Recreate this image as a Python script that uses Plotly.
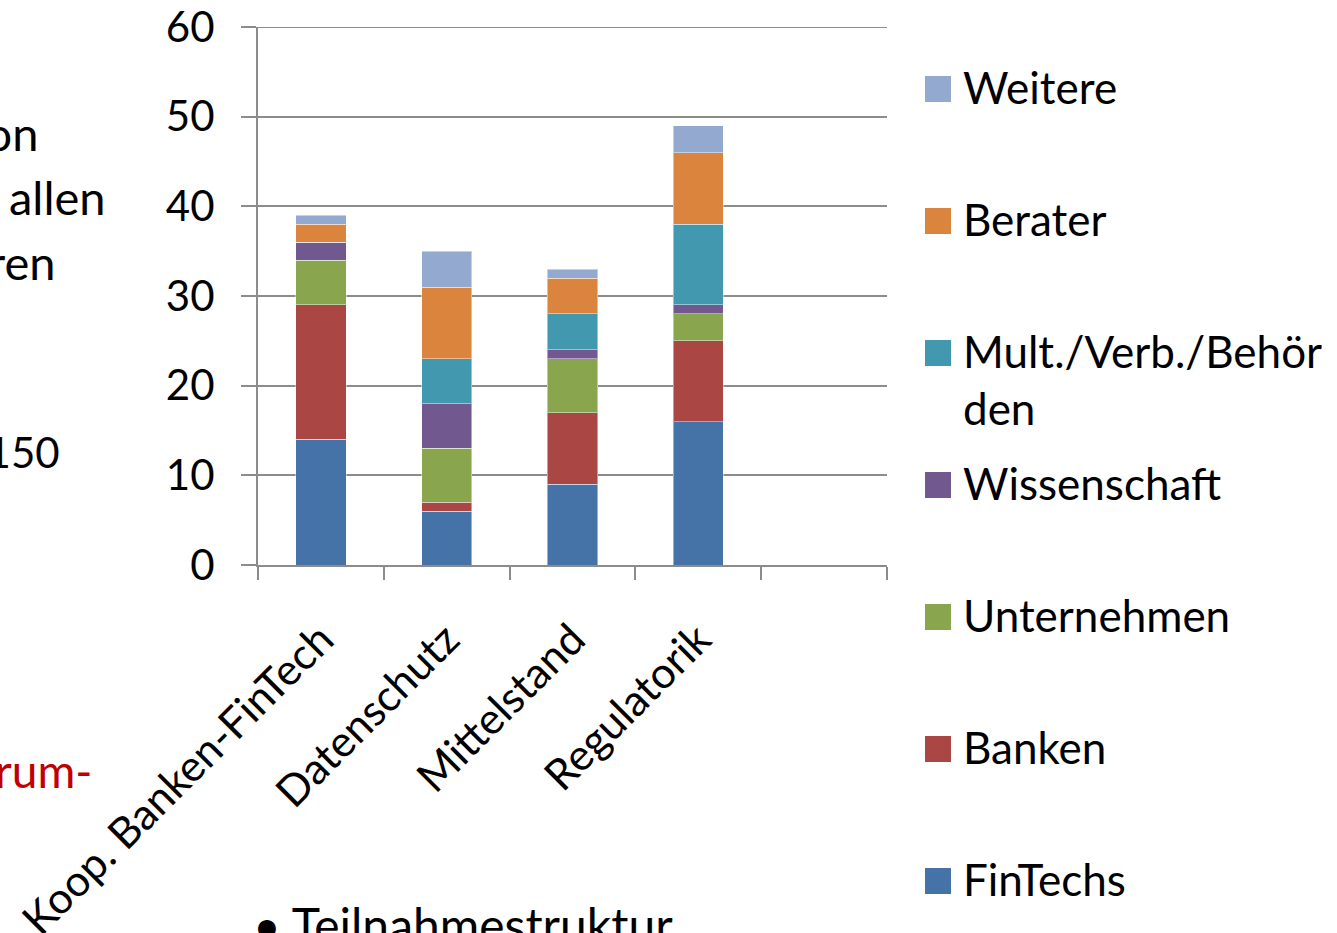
import plotly.graph_objects as go

categories = ["Koop. Banken-FinTech", "Datenschutz", "Mittelstand", "Regulatorik", " "]
series_names = ["FinTechs", "Banken", "Unternehmen", "Wissenschaft",
                "Mult./Verb./Behörden", "Berater", "Weitere"]
legend_labels = ["FinTechs", "Banken", "Unternehmen", "Wissenschaft",
                 "Mult./Verb./Behör<br>den", "Berater", "Weitere"]
fintechs = [14, 6, 9, 16]
banken = [15, 1, 8, 9]
unternehmen = [5, 6, 6, 3]
wissenschaft = [2, 5, 1, 1]
mult_verb = [0, 5, 4, 9]
berater = [2, 8, 4, 8]
weitere = [1, 4, 1, 3]
series_values = [fintechs, banken, unternehmen, wissenschaft, mult_verb, berater, weitere]
colors = ["#4572A7", "#AA4643", "#89A54E", "#71588F", "#4198AF", "#DB843D", "#93A9CF"]
y_ticks = [0, 10, 20, 30, 40, 50, 60]

FONT = "Lato"
W, H = 1337, 933
ML, MR, MT, MB = 258, 450, 27, 368
PW, PH = W - ML - MR, H - MT - MB


def px_x(x):
    return (x - ML) / PW


def px_y(y):
    return (H - MB - y) / PH


fig = go.Figure()
for name, vals, col in zip(series_names, series_values, colors):
    fig.add_trace(go.Bar(
        x=categories[:4], y=vals, name=name, width=0.4,
        marker=dict(color=col, line=dict(color="rgba(255,255,255,0.45)", width=1)),
        showlegend=False,
    ))

annotations = []
shapes = []
# top gridline at the axis maximum
shapes.append(dict(type="line", xref="paper", yref="y", x0=0, x1=1,
                   y0=y_ticks[-1], y1=y_ticks[-1], line=dict(color="#8c8c8c", width=2)))
# manual legend (top: Weitere ... bottom: FinTechs)
for i, (lab, col) in enumerate(zip(reversed(legend_labels), reversed(colors))):
    cy = 89 + i * 132
    shapes.append(dict(type="rect", xref="paper", yref="paper",
                       x0=px_x(925), x1=px_x(951), y0=px_y(cy + 13), y1=px_y(cy - 13),
                       fillcolor=col, line=dict(width=0)))
    annotations.append(dict(text=lab, xref="paper", yref="paper",
                            x=px_x(961), y=px_y(cy - 30), xanchor="left", yanchor="top",
                            align="left", showarrow=False,
                            font=dict(family=FONT, size=44, color="black")))

# background slide text fragments (partly hidden by the left page edge)
bg = [("von", 40, 133, "black", 47), ("allen", 108, 197, "black", 47),
      ("Akteuren", 58, 262, "black", 47), ("ca. 150", 62, 452, "black", 42),
      ("Forum-", 94, 770, "#C00000", 46)]
for t, xr, cy, c, fs in bg:
    annotations.append(dict(text=t, xref="paper", yref="paper", x=px_x(xr), y=px_y(cy),
                            xanchor="right", yanchor="middle", showarrow=False,
                            font=dict(family=FONT, size=fs, color=c)))
annotations.append(dict(text="• Teilnahmestruktur", xref="paper", yref="paper",
                        x=px_x(251), y=px_y(894), xanchor="left", yanchor="top",
                        showarrow=False, font=dict(family=FONT, size=48, color="black")))

fig.update_layout(
    width=W, height=H, autosize=False,
    margin=dict(l=ML, r=MR, t=MT, b=MB, pad=0),
    paper_bgcolor="white", plot_bgcolor="white",
    barmode="stack",
    font=dict(family=FONT, size=42, color="black"),
    shapes=shapes, annotations=annotations,
    xaxis=dict(type="category", categoryorder="array", categoryarray=categories,
               range=[-0.5, 4.5], tickangle=-45, tickson="boundaries",
               ticks="outside", ticklen=13, tickwidth=2, tickcolor="#8c8c8c",
               showline=True, linecolor="#8c8c8c", linewidth=2, automargin=False,
               showgrid=False, ticklabelstandoff=30,
               tickfont=dict(family=FONT, size=43, color="black")),
    yaxis=dict(range=[0, 60], tickvals=y_ticks, ticks="outside", ticklen=15,
               tickwidth=2, tickcolor="#8c8c8c", showline=True, linecolor="#8c8c8c",
               linewidth=2, showgrid=True, gridcolor="#8c8c8c", gridwidth=2,
               zeroline=False, ticklabelstandoff=18, automargin=False,
               tickfont=dict(family=FONT, size=42, color="black")),
)

fig.write_html("out.html", config={"displayModeBar": False},
               post_script="document.body.style.margin='0';")
